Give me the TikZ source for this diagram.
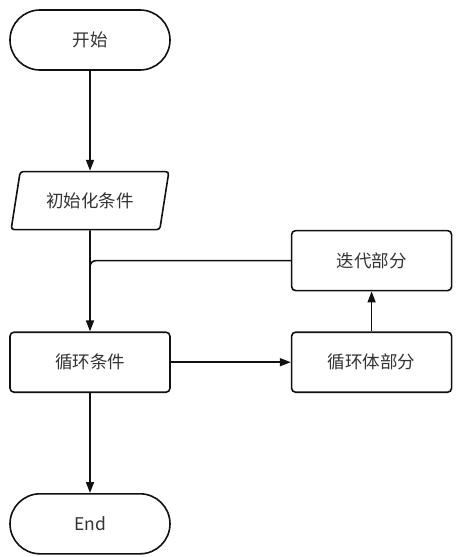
\documentclass[tikz,border=0pt]{standalone}
\usepackage{fontspec}
\setmainfont{Noto Sans CJK SC}
\usetikzlibrary{arrows.meta, positioning, shapes.geometric}
\definecolor{linegray}{HTML}{111111}
\definecolor{textgray}{HTML}{333333}
\tikzset{
  termbox/.style={draw=linegray, line width=1.6pt, rounded corners=30pt, fill=white,
                  minimum width=160pt, minimum height=60pt, text=textgray,
                  font=\fontsize{17.5}{20}\selectfont, align=center},
  procbox/.style={draw=linegray, line width=1.6pt, rounded corners=4pt, fill=white,
                  minimum width=160pt, minimum height=60pt, text=textgray,
                  font=\fontsize{17.5}{20}\selectfont, align=center},
  iobox/.style={draw=linegray, line width=1.6pt, rounded corners=3pt, fill=white,
                trapezium, trapezium left angle=75, trapezium right angle=105,
                trapezium stretches=true,
                minimum width=158pt, minimum height=58pt, text=textgray,
                font=\fontsize{17.5}{20}\selectfont, align=center},
  arr/.style={-{Triangle[length=11pt, width=8pt]}, line width=1.6pt, linegray},
}
\begin{document}
\begin{tikzpicture}[node distance=100pt and 120pt]

  \useasboundingbox (0pt,0pt) rectangle (460pt,-557pt);

  %% ── Main column (left) ───────────────────────────────────────────────────

  \node[termbox] (start) at (90pt,-40pt) {开始};
  \node[iobox, below=100pt of start] (init) {初始化条件};
  \node[procbox, below=101pt of init] (cond) {循环条件};
  \node[termbox, below=100pt of cond] (stop) {End};

  %% ── Loop body (right) ────────────────────────────────────────────────────

  \node[procbox, right=120pt of cond] (body) {循环体部分};
  \node[procbox, above=40pt of body] (iter) {迭代部分};

  %% ── Connectors ───────────────────────────────────────────────────────────

  \draw[arr] (start) -- (init);
  \draw[arr] (init) -- (cond);
  \draw[arr] (cond) -- (body);
  \draw[arr] (body) -- (iter);
  \draw[arr] (cond) -- (stop);
  \draw[line width=1.6pt, linegray, rounded corners=6pt, shorten >=12pt]
    (iter.west) -| (cond.north);

\end{tikzpicture}
\end{document}
